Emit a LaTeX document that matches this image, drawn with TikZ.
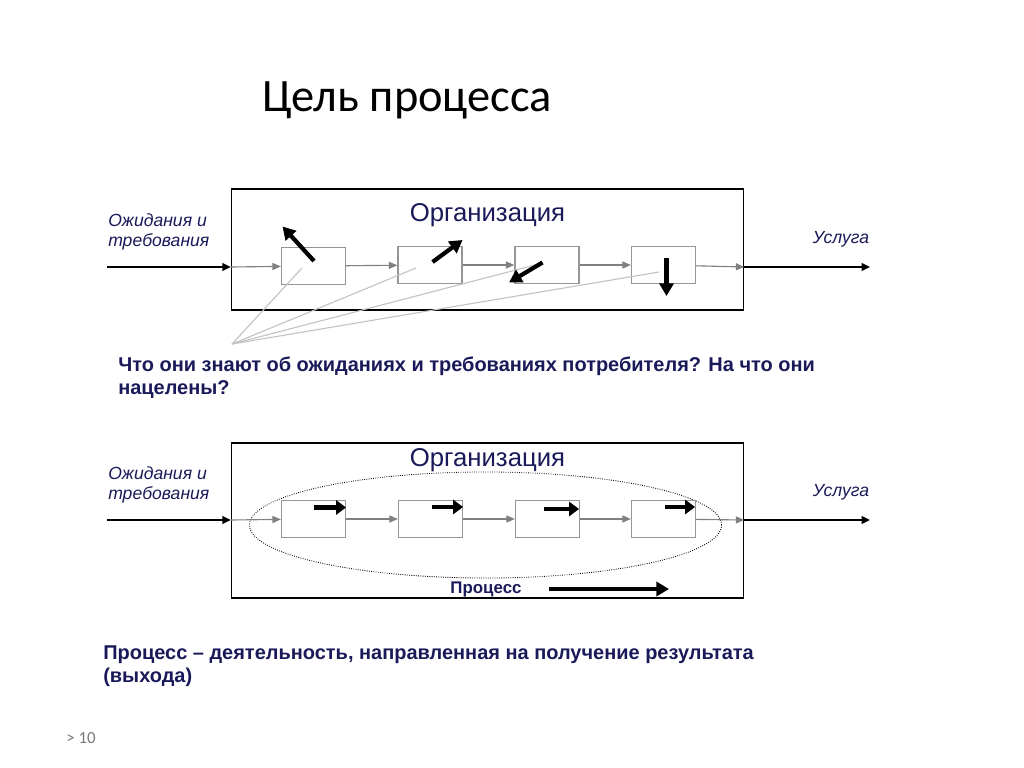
\documentclass[tikz,border=0pt]{standalone}
\usepackage{fontspec}
\setmainfont{Liberation Sans}
\newfontfamily\titlefont{Carlito}
\usetikzlibrary{arrows.meta,shapes.geometric}
\definecolor{navy}{RGB}{26,26,90}
\definecolor{boxgray}{RGB}{150,150,150}
\definecolor{flowgray}{RGB}{128,128,128}
\definecolor{hintgray}{RGB}{195,195,195}
\definecolor{pagegray}{RGB}{120,120,120}

\begin{document}
\begin{tikzpicture}
[x=0.025cm,y=-0.025cm,
  frameDecorate/.style={shape=rectangle,draw,line width=1pt,minimum width=12.8cm,inner sep=0pt},%
  stepDecorate/.style={shape=rectangle,draw=boxgray,line width=0.9pt,minimum width=1.6cm,minimum height=0.93cm,inner sep=0pt},%
  flowDecorate/.style={-{Triangle[length=6pt,width=5pt]},draw=flowgray,line width=0.8pt},%
  inOutDecorate/.style={-{Triangle[length=6pt,width=5.5pt]},line width=1.4pt},%
  hintDecorate/.style={-,draw=hintgray,line width=0.8pt},%
  turnDecorate/.style={-{Triangle[length=9pt,width=10pt]},line width=3pt},%
  pushDecorate/.style={-{Triangle[length=7pt,width=10pt]},line width=3.2pt},%
  labelDecorate/.style={text=navy,inner sep=0pt,font=\fontsize{12.5}{14.2}\selectfont\itshape,align=left},%
  orgDecorate/.style={text=navy,inner sep=0pt,font=\fontsize{18.3}{20}\selectfont},%
  noteDecorate/.style={text=navy,inner sep=0pt,font=\bfseries\fontsize{14.2}{16.4}\selectfont,align=left}]
\useasboundingbox (0,0) rectangle (1024,768);
%% title
\node (title) at (262,100) [anchor=west,inner sep=0pt,font=\titlefont\fontsize{33}{36}\selectfont] {Цель процесса};
%% frames
\node (top) at (487.5,249.5) [frameDecorate,minimum height=3.02cm] {};
\node (bottom) at (487.5,520.5) [frameDecorate,minimum height=3.87cm] {};
\node (proc) at (485.5,525) [shape=ellipse,draw,densely dotted,line width=0.6pt,minimum width=11.8cm,minimum height=2.65cm] {};
%% steps
\foreach \nodename/\x/\y in {
  b1/313.5/266, b2/430/265, b3/547/265, b4/663.5/265,
  c1/313.5/519, c2/430.5/519, c3/547.5/519, c4/663.5/519}
{
  \node (\nodename) at (\x,\y) [stepDecorate] {};
}
%% free ends
\coordinate (in1) at (107,267);
\coordinate (out1) at (870,267);
\coordinate (in2) at (107,520);
\coordinate (out2) at (870,520);
\coordinate (l1) at (top.west |- in1);
\coordinate (r1) at (top.east |- out1);
\coordinate (l2) at (bottom.west |- in2);
\coordinate (r2) at (bottom.east |- out2);
\coordinate (hub) at (232,344);
\coordinate (p1) at (302,268);
\coordinate (p2) at (416,268);
\coordinate (p3) at (535,265);
\coordinate (p4) at (659,272);
%% flow
\path
\foreach \startnode/\endnode in {l1/b1, b1/b2, b2/b3, b3/b4, b4/r1,
  l2/c1, c1/c2, c2/c3, c3/c4, c4/r2}
{
  (\startnode) edge[flowDecorate] (\endnode)
};
\path
\foreach \startnode/\endnode in {in1/l1, r1/out1, in2/l2, r2/out2}
{
  (\startnode) edge[inOutDecorate] (\endnode)
};
\path
\foreach \endnode in {p1, p2, p3, p4}
{
  (hub) edge[hintDecorate] (\endnode)
};
%% directions
\draw[turnDecorate] (314,261) -- (282.5,226.5);
\draw[turnDecorate] (432.5,262) -- (462.5,240);
\draw[turnDecorate] (542.5,262.5) -- (509,282.5);
\draw[turnDecorate] (666.5,258) -- (666.5,296);
\draw[pushDecorate] (314,507.5) -- (346,507.5);
\draw[pushDecorate] (432,507) -- (463,507);
\draw[pushDecorate] (544,509) -- (579,509);
\draw[pushDecorate] (665,507) -- (695,507);
\draw[turnDecorate,line width=2.8pt] (549,589) -- (669,589);
%% texts
\node (org1) at (487.5,215) [orgDecorate] {Организация};
\node (org2) at (487.5,460) [orgDecorate] {Организация};
\node (exp1) at (108,232) [labelDecorate,anchor=west] {Ожидания и\\требования};
\node (exp2) at (108,485) [labelDecorate,anchor=west] {Ожидания и\\требования};
\node (serv1) at (841,239) [labelDecorate] {Услуга};
\node (serv2) at (841,492) [labelDecorate] {Услуга};
\node (procname) at (486,589) [noteDecorate,font=\bfseries\fontsize{12}{14}\selectfont] {Процесс};
\node (question) at (118,357) [noteDecorate,anchor=north west] {Что они знают об ожиданиях и требованиях потребителя? На что они\\нацелены?};
\node (definition) at (103,645) [noteDecorate,anchor=north west] {Процесс -- деятельность, направленная на получение результата\\(выхода)};
\node (page) at (81,738) [inner sep=0pt,text=pagegray,font=\titlefont\fontsize{12}{14}\selectfont] {> 10};
\end{tikzpicture}
\end{document}
